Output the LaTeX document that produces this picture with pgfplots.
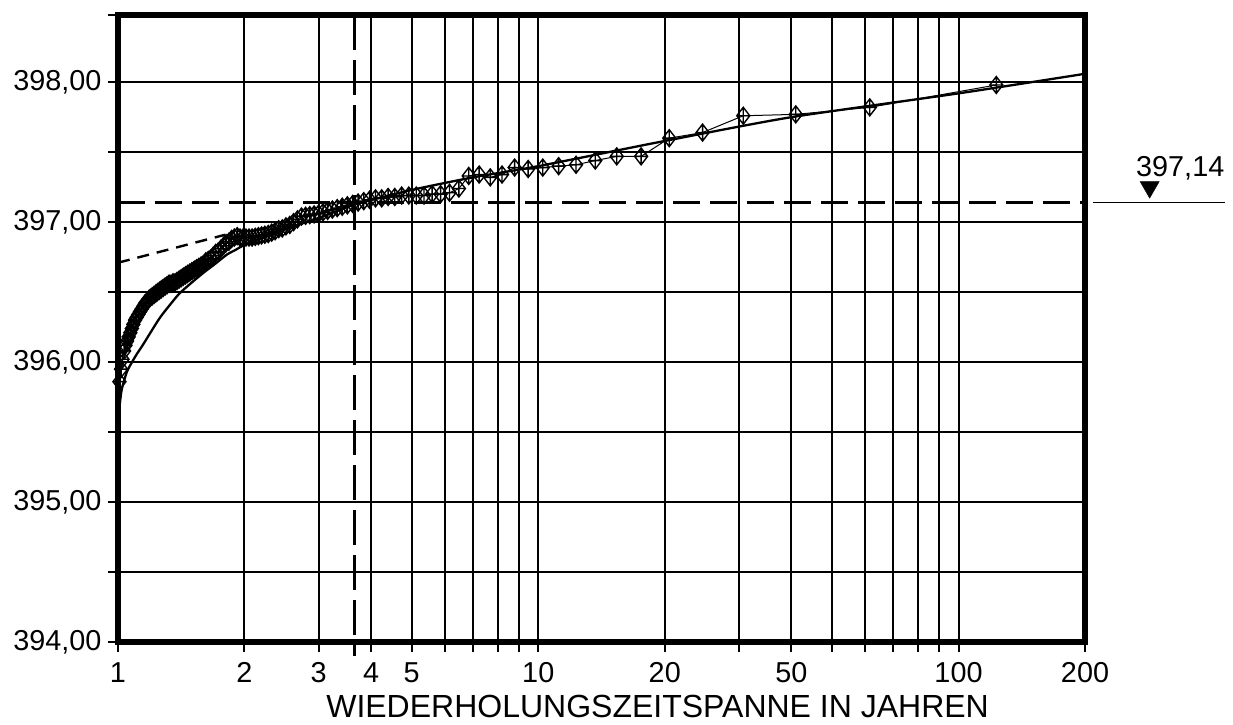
\documentclass[border=0pt]{standalone}
\usepackage{fontspec}
\setmainfont{Liberation Sans}
\usepackage{pgfplots}
\pgfplotsset{compat=1.18}
\pgfdeclareplotmark{dplus}{%
  \pgfpathmoveto{\pgfqpoint{0pt}{1.3\pgfplotmarksize}}%
  \pgfpathlineto{\pgfqpoint{\pgfplotmarksize}{0pt}}%
  \pgfpathlineto{\pgfqpoint{0pt}{-1.3\pgfplotmarksize}}%
  \pgfpathlineto{\pgfqpoint{-\pgfplotmarksize}{0pt}}%
  \pgfpathclose
  \pgfpathmoveto{\pgfqpoint{0pt}{1.3\pgfplotmarksize}}%
  \pgfpathlineto{\pgfqpoint{0pt}{-1.3\pgfplotmarksize}}%
  \pgfpathmoveto{\pgfqpoint{-\pgfplotmarksize}{0pt}}%
  \pgfpathlineto{\pgfqpoint{\pgfplotmarksize}{0pt}}%
  \pgfusepathqstroke}
\begin{document}
\begin{tikzpicture}
\useasboundingbox (-118pt,-82pt) rectangle (1115pt,642pt);
\begin{axis}[
  at={(0pt,0pt)}, anchor=south west,
  width=967pt, height=627pt, scale only axis,
  xmode=log, xmin=1, xmax=200, ymin=394, ymax=398.48,
  clip=false,
  axis line style={line width=5.5pt},
  xtick={1,2,3,4,5,6,7,8,9,10,20,30,40,50,60,70,80,90,100,200},
  xticklabels={1,2,3,4,5,{},{},{},{},10,20,{},50,{},{},{},{},{},100,200},
  ytick={394,394.5,395,395.5,396,396.5,397,397.5,398,398.48},
  yticklabels={{394,00},{},{395,00},{},{396,00},{},{397,00},{},{398,00},{}},
  minor tick num=0,
  xtick pos=lower, ytick pos=left,
  major tick length=10pt, tick align=outside,
  tick style={line width=2pt, black},
  grid=major, major grid style={line width=2pt, black},
  tick label style={font=\fontsize{28.8}{32}\selectfont},
  xticklabel style={yshift=-7pt},
  yticklabel style={xshift=-3pt},
  xlabel={WIEDERHOLUNGSZEITSPANNE IN JAHREN},
  xlabel style={font=\fontsize{32}{38}\selectfont, inner sep=0pt, at={(axis description cs:0.558,0)}, anchor=base, yshift=-75pt},
]
% reference lines
\addplot[black, line width=2.6pt, dash pattern=on 27pt off 10pt, forget plot] coordinates {(1,397.14)(200,397.14)};
\addplot[black, line width=3pt, dash pattern=on 35pt off 10pt, forget plot] coordinates {(3.65,398.48)(3.65,393.9)};
\addplot[black, line width=2.4pt, dash pattern=on 12pt off 8pt, forget plot] coordinates {(1,396.71)(1.8,396.91)};
% observed values
\addplot[black, line width=1pt, mark=dplus, mark size=6.5pt, mark options={line width=1.4pt, solid}] coordinates {
(123,397.98)(61.5,397.82)(41,397.77)(30.75,397.76)(24.6,397.64)(20.5,397.60)
(17.571,397.47)(15.375,397.47)(13.667,397.44)(12.3,397.41)(11.182,397.40)(10.25,397.39)
(9.462,397.38)(8.786,397.39)(8.2,397.34)(7.688,397.32)(7.235,397.34)(6.833,397.33)
(6.474,397.24)(6.15,397.21)(5.857,397.20)(5.591,397.20)(5.348,397.19)(5.125,397.19)
(4.92,397.19)(4.731,397.19)(4.556,397.18)(4.393,397.18)(4.241,397.17)(4.1,397.17)
(3.968,397.16)(3.844,397.15)(3.727,397.14)(3.618,397.13)(3.514,397.12)(3.417,397.11)
(3.324,397.10)(3.237,397.09)(3.154,397.08)(3.075,397.07)(3.0,397.06)(2.929,397.055)
(2.860,397.05)(2.795,397.045)(2.733,397.04)(2.674,397.02)(2.617,397.00)(2.563,396.98)
(2.510,396.97)(2.460,396.955)(2.412,396.95)(2.365,396.935)(2.321,396.925)(2.278,396.915)
(2.236,396.91)(2.196,396.905)(2.158,396.90)(2.121,396.895)(2.085,396.89)(2.05,396.89)
(2.016,396.89)(1.984,396.89)(1.952,396.89)(1.922,396.90)(1.892,396.89)(1.864,396.88)
(1.836,396.86)(1.809,396.85)(1.783,396.83)(1.757,396.81)(1.732,396.79)(1.708,396.78)
(1.685,396.76)(1.662,396.74)(1.640,396.73)(1.618,396.72)(1.597,396.70)(1.577,396.69)
(1.557,396.68)(1.538,396.67)(1.519,396.66)(1.5,396.65)(1.482,396.64)(1.464,396.63)
(1.447,396.62)(1.430,396.61)(1.414,396.60)(1.398,396.59)(1.382,396.58)(1.367,396.57)
(1.352,396.57)(1.337,396.56)(1.323,396.56)(1.309,396.55)(1.295,396.54)(1.281,396.53)
(1.268,396.52)(1.255,396.51)(1.242,396.50)(1.230,396.49)(1.218,396.48)(1.206,396.47)
(1.194,396.46)(1.183,396.45)(1.171,396.43)(1.160,396.42)(1.150,396.40)(1.139,396.38)
(1.128,396.36)(1.118,396.34)(1.108,396.32)(1.098,396.30)(1.088,396.27)(1.079,396.24)
(1.070,396.21)(1.060,396.18)(1.051,396.15)(1.042,396.12)(1.034,396.08)(1.025,396.02)
(1.017,395.95)(1.008,395.86)};
% fitted distribution
\addplot[black, line width=2.3pt, smooth, tension=0.4] coordinates {
(1.005,395.64)(1.02,395.80)(1.05,395.93)(1.08,396.00)(1.11,396.06)(1.15,396.13)
(1.20,396.22)(1.26,396.32)(1.33,396.41)(1.40,396.49)(1.50,396.57)(1.60,396.64)
(1.70,396.70)(1.82,396.77)(1.90,396.80)(2.04,396.85)(2.5,396.95)(3.0,397.03)
(3.7,397.13)(5,397.23)(7,397.32)(10,397.40)(20,397.58)(40,397.75)(100,397.92)(200,398.06)};
% water level marker outside the frame
\addplot[black, line width=1.6pt, forget plot] coordinates {(209,397.14)(431,397.14)};
\addplot[black, only marks, mark=triangle*, mark size=11pt, mark options={rotate=180}, forget plot] coordinates {(285,397.25)};
\node[anchor=base, yshift=26pt, font=\fontsize{28.8}{32}\selectfont] at (axis cs:337,397.14) {397,14};
\end{axis}
\end{tikzpicture}
\end{document}
